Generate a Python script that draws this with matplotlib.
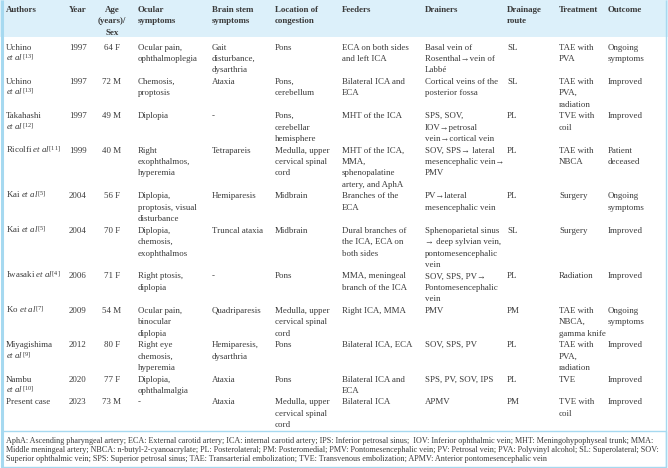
import matplotlib
matplotlib.use("Agg")
import matplotlib.pyplot as plt
from matplotlib.patches import Rectangle

plt.rcParams['mathtext.fontset'] = 'custom'
plt.rcParams['mathtext.rm'] = 'Liberation Serif'
plt.rcParams['mathtext.it'] = 'Liberation Serif:italic'
plt.rcParams['mathtext.bf'] = 'Liberation Serif:bold'

FAM = ['Liberation Serif', 'DejaVu Serif']

headers = ["Authors", "Year", "Age\n(years)/\nSex", "Ocular\nsymptoms", "Brain stem\nsymptoms",
           "Location of\ncongestion", "Feeders", "Drainers", "Drainage\nroute", "Treatment", "Outcome"]

authors = ["Uchino\n$\\mathit{et\\ al}^{\\mathrm{[13]}}$",
           "Uchino\n$\\mathit{et\\ al}^{\\mathrm{[13]}}$",
           "Takahashi\n$\\mathit{et\\ al}^{\\mathrm{[12]}}$",
           "Ricolfi $\\mathit{et\\ al}^{\\mathrm{[11]}}$",
           "Kai $\\mathit{et\\ al}^{\\mathrm{[5]}}$",
           "Kai $\\mathit{et\\ al}^{\\mathrm{[5]}}$",
           "Iwasaki $\\mathit{et\\ al}^{\\mathrm{[4]}}$",
           "Ko $\\mathit{et\\ al}^{\\mathrm{[7]}}$",
           "Miyagishima\n$\\mathit{et\\ al}^{\\mathrm{[9]}}$",
           "Nambu\n$\\mathit{et\\ al}^{\\mathrm{[10]}}$",
           "Present case"]
years = ["1997", "1997", "1997", "1999", "2004", "2004", "2006", "2009", "2012", "2020", "2023"]
age_sex = ["64 F", "72 M", "49 M", "40 M", "56 F", "70 F", "71 F", "54 M", "80 F", "77 F", "73 M"]
ocular = ["Ocular pain,\nophthalmoplegia", "Chemosis,\nproptosis", "Diplopia",
          "Right\nexophthalmos,\nhyperemia", "Diplopia,\nproptosis, visual\ndisturbance",
          "Diplopia,\nchemosis,\nexophthalmos", "Right ptosis,\ndiplopia",
          "Ocular pain,\nbinocular\ndiplopia", "Right eye\nchemosis,\nhyperemia",
          "Diplopia,\nophthalmalgia", "-"]
brainstem = ["Gait\ndisturbance,\ndysarthria", "Ataxia", "-", "Tetrapareis", "Hemiparesis",
             "Truncal ataxia", "-", "Quadriparesis", "Hemiparesis,\ndysarthria", "Ataxia", "Ataxia"]
location = ["Pons", "Pons,\ncerebellum", "Pons,\ncerebellar\nhemisphere",
            "Medulla, upper\ncervical spinal\ncord", "Midbrain", "Midbrain", "Pons",
            "Medulla, upper\ncervical spinal\ncord", "Pons", "Pons",
            "Medulla, upper\ncervical spinal\ncord"]
feeders = ["ECA on both sides\nand left ICA", "Bilateral ICA and\nECA", "MHT of the ICA",
           "MHT of the ICA,\nMMA,\nsphenopalatine\nartery, and AphA", "Branches of the\nECA",
           "Dural branches of\nthe ICA, ECA on\nboth sides", "MMA, meningeal\nbranch of the ICA",
           "Right ICA, MMA", "Bilateral ICA, ECA", "Bilateral ICA and\nECA", "Bilateral ICA"]
drainers = ["Basal vein of\nRosenthal\u2192vein of\nLabbé", "Cortical veins of the\nposterior fossa",
            "SPS, SOV,\nIOV\u2192petrosal\nvein\u2192cortical vein",
            "SOV, SPS\u2192 lateral\nmesencephalic vein\u2192\nPMV",
            "PV\u2192lateral\nmesencephalic vein",
            "Sphenoparietal sinus\n\u2192 deep sylvian vein,\npontomesencephalic\nvein",
            "SOV, SPS, PV\u2192\nPontomesencephalic\nvein", "PMV", "SOV, SPS, PV",
            "SPS, PV, SOV, IPS", "APMV"]
route = ["SL", "SL", "PL", "PL", "PL", "SL", "PL", "PM", "PL", "PL", "PM"]
treatment = ["TAE with\nPVA", "TAE with\nPVA,\nradiation", "TVE with\ncoil", "TAE with\nNBCA",
             "Surgery", "Surgery", "Radiation", "TAE with\nNBCA,\ngamma knife",
             "TAE with\nPVA,\nradiation", "TVE", "TVE with\ncoil"]
outcome = ["Ongoing\nsymptoms", "Improved", "Improved", "Patient\ndeceased", "Ongoing\nsymptoms",
           "Improved", "Improved", "Ongoing\nsymptoms", "Improved", "Improved", "Improved"]

footnote = [
    "AphA: Ascending pharyngeal artery; ECA: External carotid artery; ICA: internal carotid artery; IPS: Inferior petrosal sinus;  IOV: Inferior ophthalmic vein; MHT: Meningohypophyseal trunk; MMA:",
    "Middle meningeal artery; NBCA: n-butyl-2-cyanoacrylate; PL: Posterolateral; PM: Posteromedial; PMV: Pontomesencephalic vein; PV: Petrosal vein; PVA: Polyvinyl alcohol; SL: Superolateral; SOV:",
    "Superior ophthalmic vein; SPS: Superior petrosal sinus; TAE: Transarterial embolization; TVE: Transvenous embolization; APMV: Anterior pontomesencephalic vein",
]

columns = [authors, years, age_sex, ocular, brainstem, location, feeders, drainers, route, treatment, outcome]
col_x = [6, 69, 112, 138, 212, 275, 342, 425, 507, 559, 608]
col_ha = ['left', 'left', 'center'] + ['left'] * 8

W, H = 668, 468
fig = plt.figure(figsize=(W / 100, H / 100), dpi=100)
ax = fig.add_axes([0, 0, 1, 1])
ax.set_xlim(0, W)
ax.set_ylim(H, 0)
ax.axis('off')

TXT = '#3a3a3a'
BLUE_FILL = '#dcf0fa'
BLUE_LINE = '#a6d9f0'
FS = 6.4
LH = 11.45
BASE = 3.0

# header background
ax.add_patch(Rectangle((0, 0), W, 37, facecolor=BLUE_FILL, edgecolor='none', zorder=0))
# outer borders
ax.plot([1.5, 1.5], [0, H], color=BLUE_LINE, lw=2.2, zorder=1, solid_capstyle='butt')
ax.plot([665.5, 665.5], [0, H], color=BLUE_LINE, lw=1.0, zorder=1, solid_capstyle='butt')
# footer box
ax.add_patch(Rectangle((1.5, 431), 664, 35.5, facecolor='none', edgecolor=BLUE_LINE, lw=1.0, zorder=1))


def draw_cell(x, y0, txt, ha, bold=False):
    for i, line in enumerate(txt.split('\n')):
        ax.text(x, y0 + i * LH + BASE, line, ha=ha, va='baseline', fontsize=FS,
                family=FAM, color=TXT, fontweight='bold' if bold else 'normal')


# header
for j, h in enumerate(headers):
    draw_cell(col_x[j], 9, h, col_ha[j], bold=True)

# body
y = 46.5
for r in range(len(authors)):
    n = max(col[r].count('\n') + 1 for col in columns)
    for j, col in enumerate(columns):
        draw_cell(col_x[j], y, col[r], col_ha[j])
    y += n * LH

# footnote, sized to fit the box width
fig.canvas.draw()
renderer = fig.canvas.get_renderer()
probe = ax.text(0, 0, footnote[0], fontsize=5.0, family=FAM)
wpx = probe.get_window_extent(renderer).width
probe.remove()
ffs = 5.0 * 652 / wpx
for i, line in enumerate(footnote):
    ax.text(6, 441 + i * 8.6 + 2.4, line, ha='left', va='baseline', fontsize=ffs,
            family=FAM, color=TXT)

fig.savefig('out.png', dpi=100)
